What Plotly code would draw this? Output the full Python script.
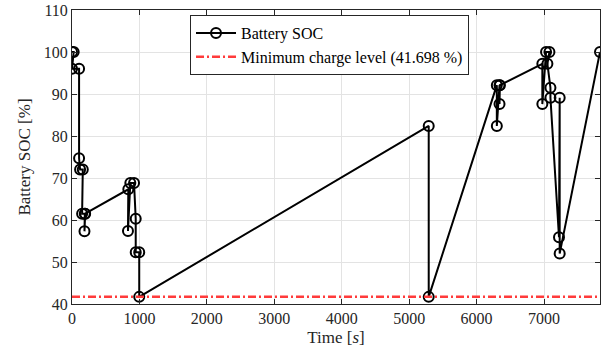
import plotly.graph_objects as go

# Battery SOC trajectory (time [s], SOC [%])
time_s = [0, 25, 0, 105, 105, 120, 160, 150, 190, 185, 195, 835, 830, 865, 920, 945, 945, 997, 997,
          5290, 5290, 6300, 6300, 6340, 6340, 6345, 6975, 6975, 7030, 7080, 7050, 7095, 7095,
          7222, 7232, 7232, 7830]
soc_pct = [100, 100, 96, 96, 74.7, 72, 72, 61.5, 61.5, 57.3, 61.5, 67.3, 57.4, 68.8, 68.8, 60.3, 52.3, 52.3, 41.698,
           82.4, 41.698, 92.1, 82.4, 92.1, 87.6, 92.1, 97.2, 87.6, 100, 100, 97.2, 91.5, 89.1,
           55.9, 89.1, 52.0, 100]
min_level = 41.698
x_range = [0, 7830]
y_range = [40, 110]
x_ticks = [0, 1000, 2000, 3000, 4000, 5000, 6000, 7000]
y_ticks = [40, 50, 60, 70, 80, 90, 100, 110]

FONT = "Liberation Serif"

fig = go.Figure()
fig.add_trace(go.Scatter(
    x=time_s, y=soc_pct, mode="lines+markers", name="Battery SOC",
    line=dict(color="black", width=2),
    marker=dict(symbol="circle-open", size=10, color="black", line=dict(width=2, color="black")),
))
fig.add_trace(go.Scatter(
    x=x_range, y=[min_level, min_level], mode="lines",
    name=f"Minimum charge level ({min_level} %)",
    line=dict(color="#ff3b3b", width=2.5, dash="8px,3px,2px,3px"),
))

axis_common = dict(
    showline=True, linecolor="#262626", linewidth=1, mirror="ticks",
    ticks="inside", ticklen=5, tickcolor="#262626",
    showgrid=True, gridcolor="#e3e3e3", gridwidth=1, zeroline=False,
    tickfont=dict(family=FONT, size=16, color="#262626"),
)
fig.update_xaxes(range=x_range, tickvals=x_ticks,
                 title=dict(text="Time [<i>s</i>]", font=dict(family=FONT, size=17, color="#262626"), standoff=4),
                 **axis_common)
fig.update_yaxes(range=y_range, tickvals=y_ticks,
                 title=dict(text="Battery SOC [%]", font=dict(family=FONT, size=17, color="#262626"), standoff=8),
                 **axis_common)

fig.update_layout(
    width=602, height=352,
    margin=dict(l=72, r=2, t=10, b=48),
    paper_bgcolor="white", plot_bgcolor="white",
    showlegend=True,
    legend=dict(x=0.2235, y=0.983, xanchor="left", yanchor="top",
                bgcolor="white", bordercolor="#262626", borderwidth=1,
                font=dict(family=FONT, size=16, color="black"),
                tracegroupgap=0, itemwidth=40),
)
fig.write_html("out.html")
